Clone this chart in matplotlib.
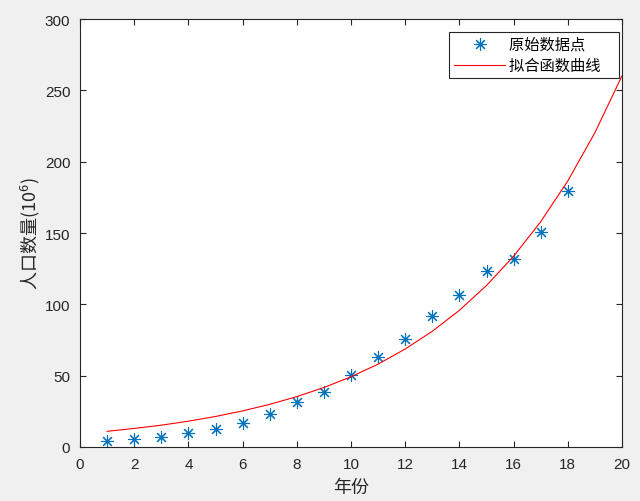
import matplotlib
matplotlib.use("Agg")
import matplotlib.pyplot as plt
import numpy as np

plt.rcParams['font.family'] = ['Liberation Sans', 'Noto Sans CJK SC', 'DejaVu Sans']
plt.rcParams['mathtext.fontset'] = 'custom'
plt.rcParams['mathtext.rm'] = 'Noto Sans CJK SC'
plt.rcParams['mathtext.it'] = 'Noto Sans CJK SC'

# 原始数据
years = np.arange(1, 19)
population = [3.9, 5.3, 7.2, 9.6, 12.9, 17.1, 23.2, 31.4, 38.6, 50.2,
              62.9, 76.0, 92.0, 106.5, 123.2, 131.7, 150.7, 179.3]

# 拟合曲线
fit_x = np.arange(1, 21)
fit_y = [11.0, 13.0, 15.3, 18.1, 21.4, 25.3, 29.9, 35.3, 41.7, 49.2,
         58.1, 68.7, 81.1, 95.8, 113.2, 133.7, 157.9, 186.5, 220.3, 260.2]

dark = '#262626'

fig = plt.figure(figsize=(6.4, 5.02), dpi=100, facecolor='#f0f0f0')
ax = fig.add_axes([80/640, 54/502, 542/640, 428/502])
ax.set_facecolor('white')

# MATLAB 风格的星号 (8 条线)
ax.plot(years, population, linestyle='none', marker=(8, 2, 0), color='#0072BD',
        markersize=9, markeredgewidth=0.8, label='原始数据点   ')
ax.plot(fit_x, fit_y, color='red', linewidth=0.8, label='拟合函数曲线   ')

ax.set_xlim(0, 20)
ax.set_ylim(0, 300)
ax.set_xticks(np.arange(0, 21, 2))
ax.set_yticks(np.arange(0, 301, 50))

for s in ax.spines.values():
    s.set_color(dark)
    s.set_linewidth(0.8)
ax.tick_params(direction='in', top=True, right=True, colors=dark,
               labelsize=11, length=4, width=0.8, pad=7)

ax.set_xlabel('年份', fontsize=13, color=dark, labelpad=6)
ax.set_ylabel('人口数量(10$^{6}$)', fontsize=13, color=dark, labelpad=2,
              family='Noto Sans CJK SC')

leg = ax.legend(loc='upper right', bbox_to_anchor=(0.9945, 0.9696),
                fontsize=11, fancybox=False, edgecolor=dark, framealpha=1,
                borderaxespad=0, handlelength=3.3, handletextpad=0.3,
                borderpad=0.35, labelspacing=0.45)
leg.get_frame().set_linewidth(0.8)

fig.savefig('out.png', dpi=100, facecolor=fig.get_facecolor())
